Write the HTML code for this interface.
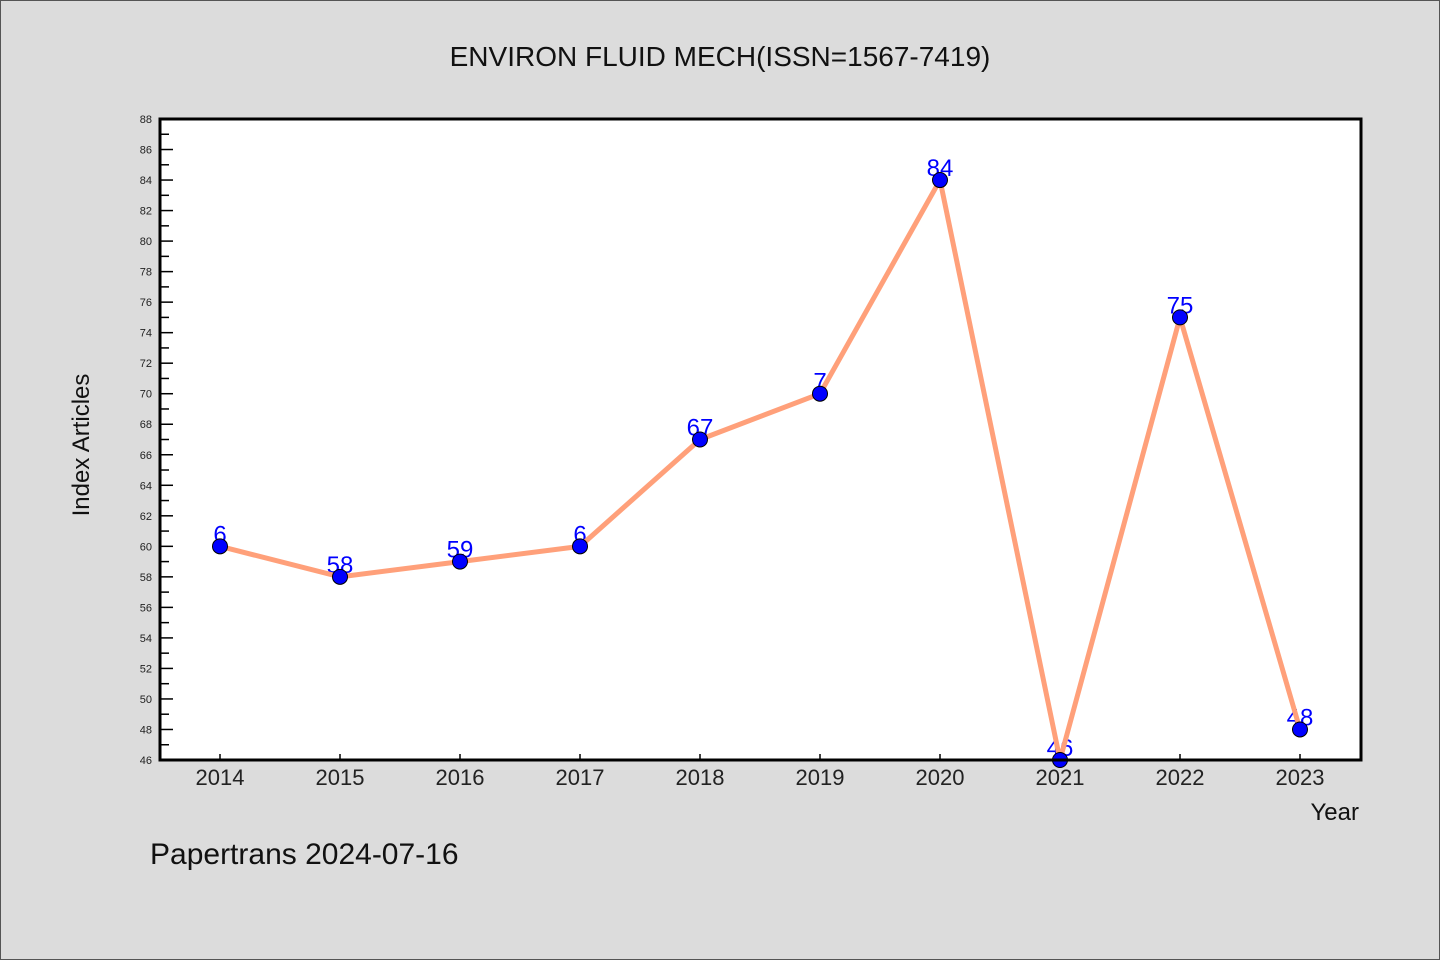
<!DOCTYPE html>
<html><head><meta charset="utf-8"><style>
html,body{margin:0;padding:0;background:#dcdcdc;}
svg{display:block;}
text{font-family:"WenQuanYi Zen Hei","Liberation Sans",sans-serif;}
</style></head><body>
<svg width="1440" height="960" xmlns="http://www.w3.org/2000/svg">
<rect x="0.5" y="0.5" width="1439" height="959" fill="#dcdcdc" stroke="#555"/>
<text x="720" y="66" text-anchor="middle" font-size="28" fill="#111">ENVIRON FLUID MECH(ISSN=1567-7419)</text>
<rect x="160" y="119" width="1201" height="641" fill="#fff"/>
<g id="yaxis"></g>
<g id="xaxis"></g>
<g id="labels"></g>
<g id="series"></g>
<g id="points"></g>
<rect x="160" y="119" width="1201" height="641" fill="none" stroke="#000" stroke-width="3"/>
<text transform="translate(89,445) rotate(-90)" text-anchor="middle" font-size="24" fill="#111">Index Articles</text>
<text x="1359" y="820" text-anchor="end" font-size="24" fill="#111">Year</text>
<text x="150" y="864" font-size="30" fill="#111">Papertrans 2024-07-16</text>
</svg>
<script>
const years=["2014","2015","2016","2017","2018","2019","2020","2021","2022","2023"];
const values=[60,58,59,60,67,70,84,46,75,48];
const pointLabels=["6","58","59","6","67","7","84","46","75","48"];
const yMin=46, yMax=88;
const NS="http://www.w3.org/2000/svg";
function X(i){return 220+i*120;}
function Y(v){return 760-(v-yMin)/(yMax-yMin)*641;}
function mk(tag,attrs,parent){const e=document.createElementNS(NS,tag);for(const k in attrs)e.setAttribute(k,attrs[k]);parent.appendChild(e);return e;}
const ya=document.getElementById('yaxis'),xa=document.getElementById('xaxis');
for(let v=yMin;v<=yMax;v++){
  const major=(v%2===0);
  const t=mk('line',{x1:160,x2:160+(major?13:9),y1:Y(v),y2:Y(v),stroke:'#000','stroke-width':1.5},ya);
  
  
  if(major){
    const l=mk('text',{x:152,y:Y(v)+4,'text-anchor':'end','font-size':11,fill:'#222'},ya);
    l.textContent=v;
    
    
  }
}
years.forEach((yr,i)=>{
  const t=mk('line',{x1:X(i),x2:X(i),y1:760,y2:754,stroke:'#000','stroke-width':1.5},xa);
  
  
  const l=mk('text',{x:X(i),y:785,'text-anchor':'middle','font-size':22,fill:'#222'},xa);
  l.textContent=yr;
  
  
});
const lg=document.getElementById('labels');
values.forEach((v,i)=>{
  const l=mk('text',{x:X(i),y:Y(v)-4,'text-anchor':'middle','font-size':24,fill:'#0000ff'},lg);
  l.textContent=pointLabels[i];
  
  
});
const pl=mk('polyline',{points:values.map((v,i)=>X(i)+','+Y(v)).join(' '),fill:'none',stroke:'#ffa07a','stroke-width':5,'stroke-linejoin':'round'},document.getElementById('series'));


const pg=document.getElementById('points');
values.forEach((v,i)=>{
  const c=mk('circle',{cx:X(i),cy:Y(v),r:7.5,fill:'#0000ff',stroke:'#000','stroke-width':1},pg);
  
  
});
</script>
</body></html>
